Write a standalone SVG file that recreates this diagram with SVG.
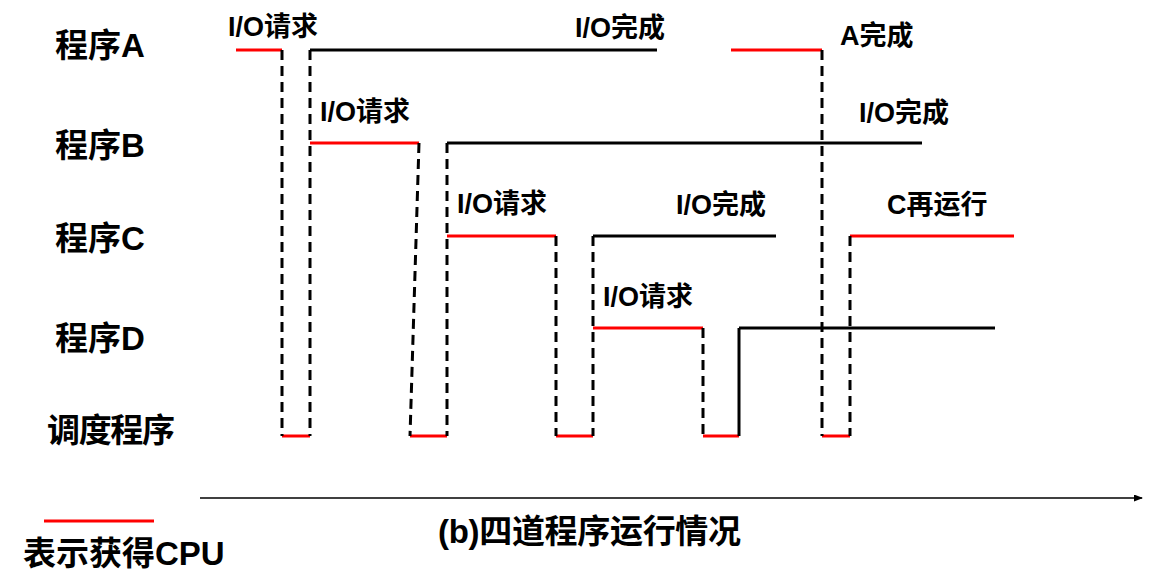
<svg xmlns="http://www.w3.org/2000/svg" width="1171" height="570" viewBox="0 0 1171 570">
<style>
text{font-family:"Liberation Sans","Noto Sans CJK SC",sans-serif;font-weight:bold;fill:#000}
.lbl{font-size:33px}
.ann{font-size:27px}
.run{stroke:#ff0000;stroke-width:3;fill:none}
.wait{stroke:#000;stroke-width:3;fill:none}
.dash{stroke:#000;stroke-width:3;fill:none;stroke-dasharray:10 6}
</style>
<defs>
<marker id="arr" markerWidth="9" markerHeight="7" refX="8" refY="3.5" orient="auto" markerUnits="userSpaceOnUse">
<path d="M0,0 L9,3.5 L0,7 Z" fill="#000"/>
</marker>
</defs>
<rect width="1171" height="570" fill="#fff"/>
<g id="labels">
<text class="lbl" x="55" y="57">程序A</text>
<text class="lbl" x="55" y="157">程序B</text>
<text class="lbl" x="55" y="250">程序C</text>
<text class="lbl" x="55" y="350">程序D</text>
<text class="lbl" x="47" y="442" textLength="128">调度程序</text>
</g>
<g id="programA">
<line class="run" x1="236" y1="50" x2="282" y2="50"/>
<line class="wait" x1="310" y1="50" x2="657" y2="50"/>
<line class="run" x1="731" y1="50" x2="822" y2="50"/>
<text class="ann" x="228" y="36">I/O请求</text>
<text class="ann" x="575" y="37">I/O完成</text>
<text class="ann" x="840" y="45">A完成</text>
</g>
<g id="programB">
<line class="run" x1="310" y1="143" x2="419" y2="143"/>
<line class="wait" x1="447" y1="143" x2="922" y2="143"/>
<text class="ann" x="320" y="121">I/O请求</text>
<text class="ann" x="859" y="122">I/O完成</text>
</g>
<g id="programC">
<line class="run" x1="447" y1="236" x2="556" y2="236"/>
<line class="wait" x1="593" y1="236" x2="776" y2="236"/>
<line class="run" x1="850" y1="236" x2="1014" y2="236"/>
<text class="ann" x="457" y="213">I/O请求</text>
<text class="ann" x="676" y="214">I/O完成</text>
<text class="ann" x="887" y="214">C再运行</text>
</g>
<g id="programD">
<line class="run" x1="593" y1="328" x2="703" y2="328"/>
<line class="wait" x1="739" y1="328" x2="995" y2="328"/>
<text class="ann" x="603" y="306">I/O请求</text>
</g>
<g id="scheduler">
<line class="run" x1="282" y1="436" x2="310" y2="436"/>
<line class="run" x1="410" y1="436" x2="447" y2="436"/>
<line class="run" x1="556" y1="436" x2="593" y2="436"/>
<line class="run" x1="703" y1="436" x2="739" y2="436"/>
<line class="run" x1="822" y1="436" x2="850" y2="436"/>
</g>
<g id="connectors">
<line class="dash" x1="282" y1="50" x2="282" y2="436"/>
<line class="dash" x1="310" y1="50" x2="310" y2="436"/>
<line class="dash" x1="419" y1="143" x2="410" y2="436"/>
<line class="dash" x1="447" y1="143" x2="447" y2="436"/>
<line class="dash" x1="556" y1="236" x2="556" y2="436"/>
<line class="dash" x1="593" y1="236" x2="593" y2="436"/>
<line class="dash" x1="703" y1="328" x2="703" y2="436"/>
<line class="wait" x1="739" y1="328" x2="739" y2="436"/>
<line class="dash" x1="822" y1="50" x2="822" y2="436"/>
<line class="dash" x1="850" y1="236" x2="850" y2="436"/>
<line x1="200" y1="498" x2="1142" y2="498" stroke="#000" stroke-width="1.5" marker-end="url(#arr)"/>
</g>
<g id="legend">
<line class="run" x1="44" y1="521" x2="154" y2="521"/>
<text class="lbl" x="23" y="565">表示获得CPU</text>
</g>
<g id="caption">
<text class="lbl" x="438" y="543" textLength="303">(b)四道程序运行情况</text>
</g>
</svg>
